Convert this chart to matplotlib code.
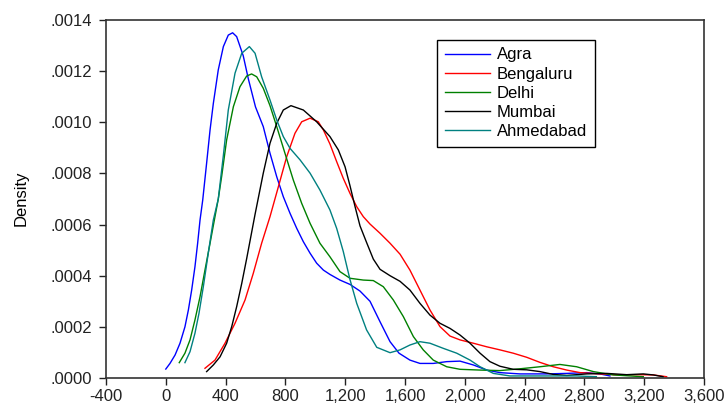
import matplotlib
matplotlib.use("Agg")
import matplotlib.pyplot as plt
from matplotlib.ticker import FuncFormatter

plt.rcParams['font.family'] = ['Liberation Sans', 'DejaVu Sans']

# kernel density estimates per city (density values in units of 1e-4)
agra_x = [0, 28, 62, 95, 128, 151, 173, 195, 213, 229, 247, 273, 296, 318, 351,
          385, 418, 447, 474, 518, 552, 600, 652, 697, 742, 786, 831, 876, 920, 965,
          1009, 1054, 1098, 1165, 1232, 1299, 1366, 1433, 1500, 1560, 1633, 1700,
          1789, 1879, 1968, 2057, 2147, 2235, 2369, 2548, 2682, 2815, 2904, 2971]
agra_y = [0.35, 0.57, 0.90, 1.36, 2.00, 2.66, 3.44, 4.35, 5.27, 6.18, 6.96, 8.40, 9.70, 10.74, 12.05,
          12.96, 13.41, 13.50, 13.35, 12.6, 11.7, 10.6, 9.83, 8.79, 7.87, 7.09, 6.44, 5.85, 5.33, 4.88,
          4.49, 4.22, 4.05, 3.83, 3.66, 3.40, 3.0, 2.2, 1.42, 0.97, 0.70, 0.57,
          0.57, 0.64, 0.66, 0.51, 0.31, 0.21, 0.16, 0.16, 0.18, 0.21, 0.16, 0.08]

bengaluru_x = [262, 329, 396, 463, 530, 585, 641, 697, 753, 809, 864, 909, 965, 1020, 1054,
               1098, 1143, 1187, 1232, 1277, 1321, 1366, 1433, 1500, 1567, 1633, 1700, 1767,
               1834, 1901, 1968, 2057, 2147, 2235, 2324, 2414, 2503, 2592, 2682, 2771, 2904,
               3037, 3171, 3261, 3350]
bengaluru_y = [0.38, 0.70, 1.36, 2.14, 3.05, 4.09, 5.27, 6.31, 7.48, 8.66, 9.57, 10.02, 10.16, 10.02, 9.70,
               9.15, 8.46, 7.81, 7.22, 6.70, 6.31, 6.02, 5.66, 5.27, 4.84, 4.22, 3.44, 2.66,
               2.01, 1.64, 1.49, 1.36, 1.22, 1.10, 0.97, 0.81, 0.61, 0.44, 0.31, 0.21, 0.16,
               0.12, 0.13, 0.12, 0.05]

delhi_x = [90, 128, 162, 195, 229, 262, 296, 329, 351, 374, 407, 452, 496, 541, 574,
           608, 652, 697, 742, 797, 853, 909, 965, 1031, 1098, 1165, 1232, 1321, 1388, 1455,
           1522, 1589, 1656, 1722, 1789, 1879, 1968, 2102, 2235, 2369, 2503, 2636, 2748,
           2860, 2993, 3194]
delhi_y = [0.60, 0.97, 1.49, 2.27, 3.18, 4.22, 5.27, 6.31, 7.0, 7.9, 9.31, 10.61, 11.39, 11.81, 11.89,
           11.78, 11.33, 10.65, 9.83, 8.79, 7.74, 6.83, 6.05, 5.27, 4.74, 4.16, 3.90, 3.83, 3.81, 3.57,
           3.05, 2.40, 1.62, 1.10, 0.70, 0.44, 0.34, 0.31, 0.29, 0.36, 0.44, 0.53, 0.44,
           0.25, 0.12, 0.05]

mumbai_x = [273, 318, 363, 407, 441, 474, 508, 541, 597, 652, 697, 742, 786, 837, 920,
            1009, 1098, 1154, 1199, 1232, 1266, 1299, 1343, 1388, 1433, 1500, 1567, 1633,
            1700, 1767, 1834, 1901, 1968, 2035, 2102, 2168, 2235, 2324, 2414, 2503, 2592,
            2682, 2815, 2949, 3083, 3194, 3261, 3326]
mumbai_y = [0.25, 0.51, 0.83, 1.36, 2.01, 2.79, 3.70, 4.67, 6.40, 8.01, 9.18, 9.96, 10.48, 10.65, 10.48,
            10.02, 9.44, 8.92, 8.26, 7.52, 6.70, 5.95, 5.30, 4.65, 4.25, 4.00, 3.78, 3.44,
            2.92, 2.46, 2.14, 1.94, 1.68, 1.36, 0.97, 0.64, 0.46, 0.34, 0.32, 0.25, 0.14,
            0.10, 0.16, 0.18, 0.13, 0.16, 0.12, 0.05]

ahmedabad_x = [128, 162, 195, 222, 251, 284, 318, 351, 385, 418, 463, 508, 559, 597, 641,
               697, 742, 786, 831, 898, 965, 1031, 1098, 1143, 1187, 1232, 1277, 1343, 1411,
               1500, 1567, 1633, 1700, 1767, 1856, 1946, 2035, 2102, 2191, 2302, 2525, 2748, 2880]
ahmedabad_y = [0.60, 1.03, 1.75, 2.53, 3.57, 4.88, 6.18, 7.0, 8.7, 10.48, 11.92, 12.70, 12.96, 12.70, 11.78,
               10.87, 10.09, 9.44, 8.98, 8.53, 8.01, 7.35, 6.57, 5.85, 4.95, 3.85, 2.92, 1.88, 1.20,
               0.99, 1.10, 1.29, 1.42, 1.36, 1.16, 0.97, 0.70, 0.44, 0.18, 0.08, 0.08, 0.08, 0.05]

series = [
    ("Agra", agra_x, agra_y, "#0000ff"),
    ("Bengaluru", bengaluru_x, bengaluru_y, "#ff0000"),
    ("Delhi", delhi_x, delhi_y, "#008000"),
    ("Mumbai", mumbai_x, mumbai_y, "#000000"),
    ("Ahmedabad", ahmedabad_x, ahmedabad_y, "#008080"),
]

fig = plt.figure(figsize=(7.27, 4.08), dpi=100)
ax = fig.add_axes([106 / 727, 1 - 378 / 408, 598 / 727, 358 / 408])

for name, xs, ys, color in series:
    ax.plot(xs, [v * 1e-4 for v in ys], color=color, lw=1.0, label=name)

ax.set_xlim(-400, 3600)
ax.set_ylim(0, 0.0014)
ax.set_xticks(range(-400, 3601, 400))
ax.set_yticks([i * 0.0002 for i in range(8)])
ax.xaxis.set_major_formatter(FuncFormatter(lambda v, p: f"{int(v):,}"))
ax.yaxis.set_major_formatter(FuncFormatter(lambda v, p: f"{v:.4f}".lstrip("0")))
ax.tick_params(direction='out', length=5, width=1, labelsize=12, colors='#222222')
ax.tick_params(axis='y', pad=5)
ax.tick_params(axis='x', pad=3)
for s in ax.spines.values():
    s.set_color('#333333')
    s.set_linewidth(1.2)

fig.text(21 / 727, 1 - 198 / 408, "Density", rotation=90, ha='center', va='center', fontsize=12)

leg = ax.legend(loc='upper left', bbox_to_anchor=((437 - 106) / 598, (378 - 40) / 358),
                borderaxespad=0, fancybox=False, framealpha=1, edgecolor='black',
                fontsize=12, handlelength=2.7, handletextpad=0.45, labelspacing=0.25,
                borderpad=0.45)
leg.get_frame().set_linewidth(1.0)

fig.savefig("out.png", dpi=100)
